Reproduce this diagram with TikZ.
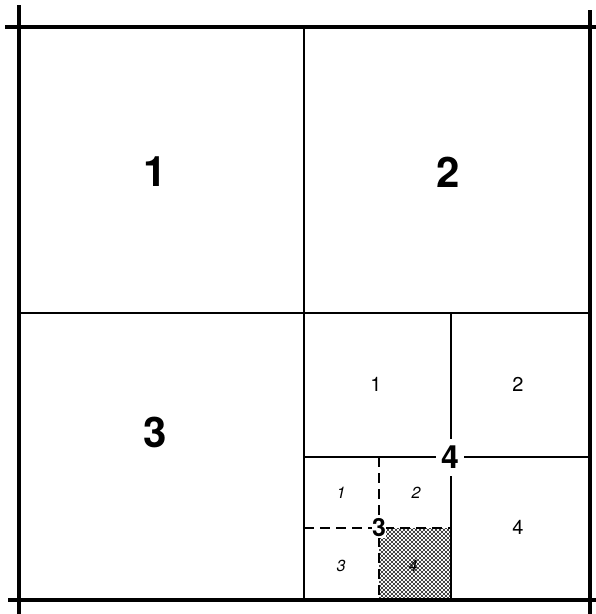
\documentclass[tikz,border=0pt]{standalone}
\usepackage{fontspec}
\setmainfont{TeX Gyre Heros}
\usetikzlibrary{patterns}
\pgfdeclarepatternformonly{bigdots}{\pgfpoint{-1.5pt}{-1.5pt}}{\pgfpoint{5.5pt}{5.5pt}}{\pgfpoint{4pt}{4pt}}
{\pgfpathcircle{\pgfpoint{0pt}{0pt}}{1.1pt}\pgfpathcircle{\pgfpoint{2pt}{2pt}}{1.1pt}\pgfusepath{fill}}
\tikzstyle{frame}=[line width=3.2pt]
\tikzstyle{split}=[line width=2.2pt]
\tikzstyle{sub}=[line width=1.5pt]
\tikzstyle{subsub}=[line width=1.5pt,dash pattern=on 10pt off 6pt]
\tikzstyle{lbig}=[font=\bfseries\fontsize{42}{42}\selectfont]
\tikzstyle{lmid}=[font=\fontsize{20}{20}\selectfont]
\tikzstyle{lsmall}=[font=\itshape\fontsize{16}{16}\selectfont]
\tikzstyle{mask}=[fill=white,inner sep=1pt]

\begin{document}
\begin{tikzpicture}[x=1pt,y=-1pt]
\useasboundingbox (0,0) rectangle (596,614);
% outer frame, lines run past the corners
\draw[frame](5,27)--(596,27);\draw[frame](8,600)--(596,600);
\draw[frame](19,5)--(19,614);\draw[frame](590,10)--(590,614);
% first split
\draw[split](304,27)--(304,600);\draw[split](19,313)--(590,313);
% quadrant 4
\draw[sub](304,457)--(590,457);\draw[line width=1.1pt](451,313)--(451,600);
% quadrant 4.3
\fill[pattern=bigdots](379,528) rectangle (451,600);
\draw[subsub](304,528)--(451,528);\draw[subsub](379,457)--(379,600);
\node[lbig] (q1) at (155,172) {1};
\node[lbig] (q2) at (448,172) {2};
\node[lbig] (q3) at (155,432) {3};
\node[lbig,mask,font=\bfseries\fontsize{32}{32}\selectfont,minimum width=28pt,minimum height=37pt] (q4) at (450,457) {4};
\node[lmid] (q41) at (376,384) {1};
\node[lmid] (q42) at (518,384) {2};
\node[lmid] (q44) at (518,527) {4};
\node[mask,font=\bfseries\fontsize{25}{25}\selectfont,inner sep=0.5pt] (q43) at (379,528) {3};
\node[lsmall] (q431) at (341,493) {1};
\node[lsmall] (q432) at (416,493) {2};
\node[lsmall] (q433) at (341,566) {3};
\node[lsmall] (q434) at (413,566) {4};
\end{tikzpicture}
\end{document}
